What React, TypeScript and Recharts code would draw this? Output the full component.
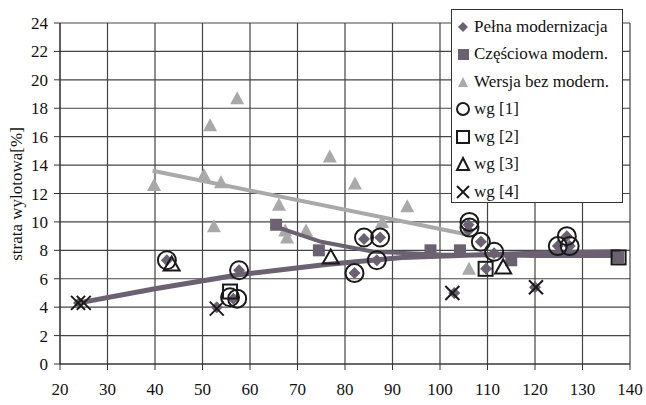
import React from 'react';
import { ScatterChart, Scatter, XAxis, YAxis, CartesianGrid } from 'recharts';

const xTicks = [20, 30, 40, 50, 60, 70, 80, 90, 100, 110, 120, 130, 140];
const yTicks = [0, 2, 4, 6, 8, 10, 12, 14, 16, 18, 20, 22, 24];

const pelna = [
  { x: 24, y: 4.3 }, { x: 42.5, y: 7.3 }, { x: 53, y: 4.0 }, { x: 56.5, y: 4.6 },
  { x: 57.7, y: 6.6 }, { x: 82, y: 6.4 }, { x: 84, y: 8.8 }, { x: 87.4, y: 8.9 },
  { x: 86.7, y: 7.3 }, { x: 106, y: 9.8 }, { x: 106, y: 9.4 }, { x: 108.6, y: 8.6 },
  { x: 111.4, y: 7.8 }, { x: 109.7, y: 6.7 }, { x: 103, y: 5.0 }, { x: 120, y: 5.4 },
  { x: 124.8, y: 8.3 }, { x: 127.3, y: 8.3 }, { x: 126.7, y: 9.0 }, { x: 137.5, y: 7.5 },
];
const czesciowa = [
  { x: 65.5, y: 9.8 }, { x: 74.5, y: 8.0 }, { x: 98, y: 8.0 },
  { x: 104.2, y: 8.0 }, { x: 115, y: 7.3 }, { x: 137.5, y: 7.5 },
];
const wersja = [
  { x: 39.8, y: 12.6 }, { x: 50.3, y: 13.3 }, { x: 51.6, y: 16.8 }, { x: 53.9, y: 12.8 },
  { x: 52.4, y: 9.7 }, { x: 57.3, y: 18.7 }, { x: 66.1, y: 11.2 }, { x: 67.4, y: 9.4 },
  { x: 67.8, y: 8.9 }, { x: 71.8, y: 9.4 }, { x: 76.8, y: 14.6 }, { x: 82.1, y: 12.7 },
  { x: 87.8, y: 10.0 }, { x: 93.1, y: 11.1 }, { x: 106.1, y: 6.7 },
];
const wg1 = [
  { x: 42.5, y: 7.3 }, { x: 55.8, y: 4.7 }, { x: 57.3, y: 4.6 }, { x: 57.7, y: 6.6 },
  { x: 82, y: 6.4 }, { x: 84, y: 8.9 }, { x: 87.4, y: 8.9 }, { x: 86.7, y: 7.3 },
  { x: 106.2, y: 10.0 }, { x: 106.2, y: 9.6 }, { x: 108.6, y: 8.6 }, { x: 111.4, y: 7.9 },
  { x: 124.8, y: 8.3 }, { x: 126.7, y: 9.0 }, { x: 127.3, y: 8.3 },
];
const wg2 = [{ x: 55.8, y: 5.1 }, { x: 109.6, y: 6.7 }, { x: 137.6, y: 7.5 }];
const wg3 = [{ x: 43.5, y: 7.0 }, { x: 77, y: 7.5 }, { x: 113.3, y: 6.8 }];
const wg4 = [
  { x: 23.8, y: 4.3 }, { x: 25, y: 4.3 }, { x: 53, y: 3.9 },
  { x: 102.6, y: 5.0 }, { x: 120.2, y: 5.4 },
];

// trend lines
const pelnaTrend = [
  { x: 24, y: 4.3 }, { x: 40, y: 5.3 }, { x: 58, y: 6.3 }, { x: 76, y: 7.0 },
  { x: 92, y: 7.5 }, { x: 110, y: 7.7 }, { x: 125, y: 7.85 }, { x: 138, y: 7.9 },
];
const czesciowaTrend = [
  { x: 66, y: 9.6 }, { x: 75, y: 8.6 }, { x: 86, y: 7.9 },
  { x: 100, y: 7.7 }, { x: 120, y: 7.6 }, { x: 138, y: 7.6 },
];
const wersjaTrend = [{ x: 39.5, y: 13.6 }, { x: 106, y: 9.1 }];

const DARK = '#6b6171';
const LIGHT = '#a9a9a9';
const INK = '#1a1a1a';
const FONT = '"Liberation Serif", "DejaVu Serif", serif';

const Diamond = ({ cx, cy }: any) => (
  <polygon points={`${cx},${cy - 6} ${cx + 6},${cy} ${cx},${cy + 6} ${cx - 6},${cy}`} fill={DARK} />
);
const FilledSquare = ({ cx, cy }: any) => (
  <rect x={cx - 6} y={cy - 6} width={12} height={12} fill={DARK} />
);
const LightTriangle = ({ cx, cy }: any) => (
  <polygon points={`${cx},${cy - 7} ${cx + 7},${cy + 6} ${cx - 7},${cy + 6}`} fill={LIGHT} />
);
const RingShape = ({ cx, cy }: any) => (
  <circle cx={cx} cy={cy} r={9} fill="none" stroke={INK} strokeWidth={2} />
);
const OpenSquare = ({ cx, cy }: any) => (
  <rect x={cx - 7} y={cy - 7} width={14} height={14} fill="none" stroke={INK} strokeWidth={2} />
);
const OpenTriangle = ({ cx, cy }: any) => (
  <polygon points={`${cx},${cy - 8} ${cx + 8},${cy + 6} ${cx - 8},${cy + 6}`} fill="none" stroke={INK} strokeWidth={2} />
);
const Cross = ({ cx, cy }: any) => (
  <g stroke={INK} strokeWidth={2}>
    <line x1={cx - 7} y1={cy - 7} x2={cx + 7} y2={cy + 7} />
    <line x1={cx - 7} y1={cy + 7} x2={cx + 7} y2={cy - 7} />
  </g>
);
const NoShape = () => <g />;

const legendItems = [
  { label: 'Pełna modernizacja', icon: 'diamond' },
  { label: 'Częściowa modern.', icon: 'square' },
  { label: 'Wersja bez modern.', icon: 'triangle' },
  { label: 'wg [1]', icon: 'ring' },
  { label: 'wg [2]', icon: 'openSquare' },
  { label: 'wg [3]', icon: 'openTriangle' },
  { label: 'wg [4]', icon: 'cross' },
];

const LegendIcon = ({ kind }: { kind: string }) => {
  let el: React.ReactNode = null;
  if (kind === 'diamond') el = <polygon points="8,3 13,8 8,13 3,8" fill={DARK} />;
  if (kind === 'square') el = <rect x={3} y={3} width={11} height={11} fill={DARK} />;
  if (kind === 'triangle') el = <polygon points="8,3 13,13 3,13" fill={LIGHT} />;
  if (kind === 'ring') el = <circle cx={8} cy={8} r={6} fill="none" stroke={INK} strokeWidth={2} />;
  if (kind === 'openSquare') el = <rect x={2} y={2} width={12} height={12} fill="none" stroke={INK} strokeWidth={2} />;
  if (kind === 'openTriangle') el = <polygon points="8,2 14,14 2,14" fill="none" stroke={INK} strokeWidth={2} />;
  if (kind === 'cross')
    el = (
      <g stroke={INK} strokeWidth={2}>
        <line x1={2} y1={2} x2={14} y2={14} />
        <line x1={2} y1={14} x2={14} y2={2} />
      </g>
    );
  return (
    <svg width={16} height={16} style={{ display: 'block', marginRight: 3 }}>
      {el}
    </svg>
  );
};

const App: React.FC = () => {
  return (
    <div style={{ position: 'absolute', left: 0, top: 0, width: 646, height: 405, background: '#fff' }}>
      <ScatterChart width={646} height={405} margin={{ top: 23, right: 16, bottom: 0, left: 0 }}>
        <CartesianGrid stroke="#444" strokeWidth={1.2} />
        <XAxis
          type="number"
          dataKey="x"
          domain={[20, 140]}
          ticks={xTicks}
          height={41}
          tickSize={6}
          tickMargin={13}
          stroke="#333"
          tick={{ fill: '#111', fontSize: 17, fontFamily: FONT }}
        />
        <YAxis
          type="number"
          dataKey="y"
          domain={[0, 24]}
          ticks={yTicks}
          width={60}
          tickSize={6}
          tickMargin={6}
          stroke="#333"
          tick={{ fill: '#111', fontSize: 17, fontFamily: FONT }}
          label={{
            content: () => (
              <text
                x={18}
                y={194}
                transform="rotate(-90, 18, 194)"
                textAnchor="middle"
                dominantBaseline="middle"
                fontSize={17}
                fontFamily={FONT}
                fill="#111"
              >
                strata wylotowa[%]
              </text>
            ),
          }}
        />
        <Scatter data={wersja} shape={LightTriangle} isAnimationActive={false} />
        <Scatter data={wersjaTrend} shape={NoShape} line={{ stroke: LIGHT, strokeWidth: 4 }} isAnimationActive={false} />
        <Scatter data={czesciowa} shape={FilledSquare} isAnimationActive={false} />
        <Scatter data={pelna} shape={Diamond} isAnimationActive={false} />
        <Scatter data={czesciowaTrend} shape={NoShape} line={{ stroke: DARK, strokeWidth: 4 }} isAnimationActive={false} />
        <Scatter data={pelnaTrend} shape={NoShape} line={{ stroke: DARK, strokeWidth: 5 }} isAnimationActive={false} />
        <Scatter data={wg1} shape={RingShape} isAnimationActive={false} />
        <Scatter data={wg2} shape={OpenSquare} isAnimationActive={false} />
        <Scatter data={wg3} shape={OpenTriangle} isAnimationActive={false} />
        <Scatter data={wg4} shape={Cross} isAnimationActive={false} />
      </ScatterChart>
      <div
        style={{
          position: 'absolute',
          left: 451,
          top: 9,
          width: 172,
          height: 194,
          boxSizing: 'border-box',
          border: '1px solid #333',
          background: '#fff',
          padding: '3px 0 0 3px',
          fontFamily: FONT,
          fontSize: 17,
          color: '#111',
        }}
      >
        {legendItems.map((it) => (
          <div key={it.label} style={{ display: 'flex', alignItems: 'center', height: 27.5, whiteSpace: 'nowrap' }}>
            <LegendIcon kind={it.icon} />
            <span>{it.label}</span>
          </div>
        ))}
      </div>
    </div>
  );
};

export default App;
